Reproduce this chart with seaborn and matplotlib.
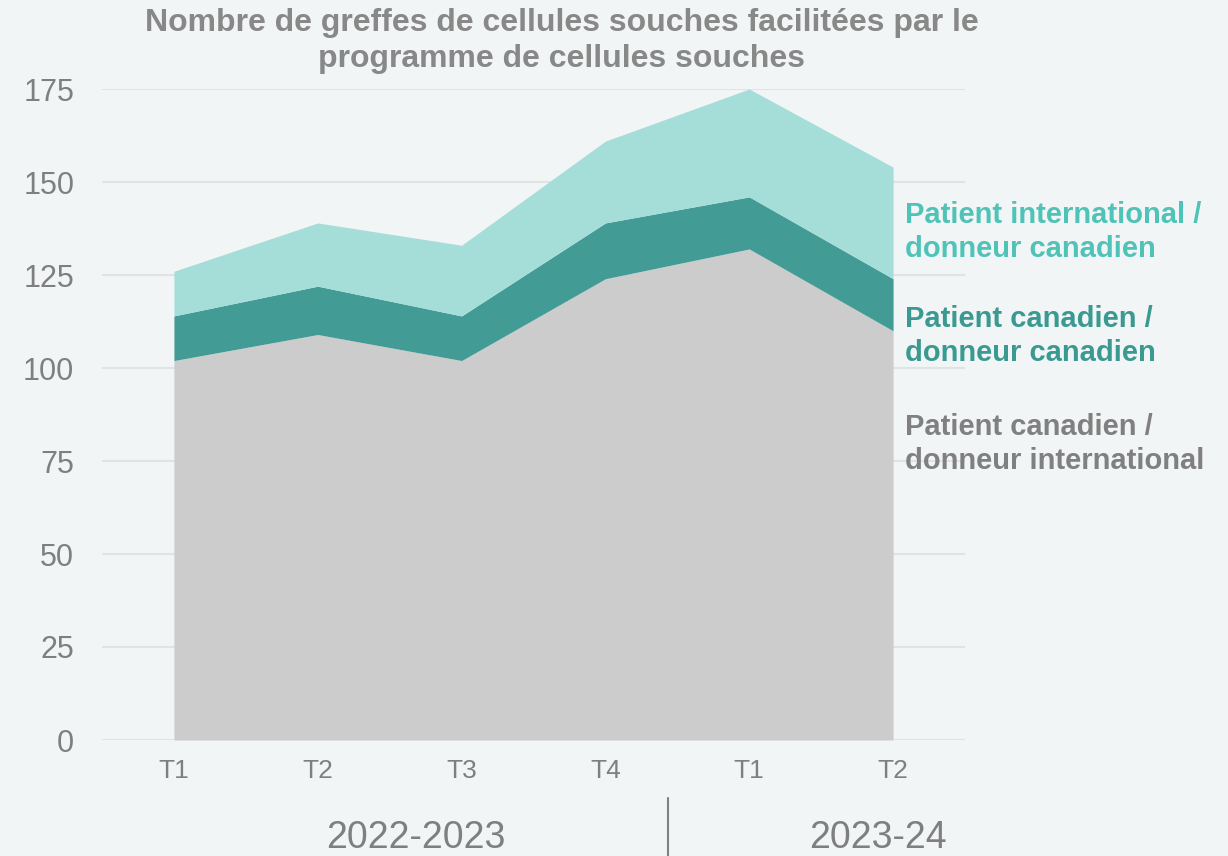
import matplotlib
matplotlib.use("Agg")
import matplotlib.pyplot as plt
import numpy as np
import pandas as pd
import seaborn as sns

# quarters shown on the x axis
quarters = ["T1", "T2", "T3", "T4", "T1", "T2"]
years = ["2022-2023", "2023-24"]

# transplants per quarter, by patient / donor origin (stacked bottom to top)
can_patient_int_donor = [102, 109, 102, 124, 132, 110]
can_patient_can_donor = [12, 13, 12, 15, 14, 14]
int_patient_can_donor = [12, 17, 19, 22, 29, 30]

series_labels = [
    "Patient canadien /\ndonneur international",
    "Patient canadien /\ndonneur canadien",
    "Patient international /\ndonneur canadien",
]

BG = "#f2f5f6"
GREY_TXT = "#7f7f7f"
fill_colors = ["#cccccc", "#429b95", "#a5ddd9"]
label_colors = ["#808080", "#3a9a91", "#4fc3b8"]

df = pd.DataFrame({
    "quarter": quarters,
    series_labels[0]: can_patient_int_donor,
    series_labels[1]: can_patient_can_donor,
    series_labels[2]: int_patient_can_donor,
})

sns.set_theme(style="whitegrid", rc={
    "axes.facecolor": BG,
    "figure.facecolor": BG,
    "grid.color": "#e2e2e2",
    "grid.linewidth": 1.5,
})
plt.rcParams["font.family"] = ["Liberation Sans", "DejaVu Sans"]

fig = plt.figure(figsize=(12.28, 8.56), dpi=100)
W, H = 1228, 856
ax = fig.add_axes([102 / W, 1 - 740 / H, 863 / W, 651 / H])

x = np.arange(len(df))
ax.stackplot(x, df[series_labels[0]], df[series_labels[1]], df[series_labels[2]],
             colors=fill_colors, linewidth=0, zorder=2)

ax.set_xlim(-0.5, len(df) - 0.5)
ax.set_ylim(0, 175)
ax.set_yticks(range(0, 176, 25))
ax.set_xticks(x)
ax.set_xticklabels(df["quarter"])
ax.grid(axis="x", visible=False)
ax.set_axisbelow(True)
ax.tick_params(axis="y", length=0, pad=20, labelsize=22, labelcolor=GREY_TXT)
ax.tick_params(axis="x", length=0, pad=14, labelsize=19, labelcolor=GREY_TXT)
sns.despine(ax=ax, left=True, bottom=True)

fig.text(562 / W, 1 - 41 / H,
         "Nombre de greffes de cellules souches facilitées par le\nprogramme de cellules souches",
         ha="center", va="center", fontsize=23, fontweight="bold", color="#888888",
         linespacing=1.28)

# series labels at the right
label_y = [444, 336, 232]
for lab, col, yy in zip(series_labels, label_colors, label_y):
    fig.text(905 / W, 1 - yy / H, lab, ha="left", va="center", fontsize=21,
             fontweight="bold", color=col, linespacing=1.25)

# fiscal year labels with divider
fig.text(416 / W, 1 - 838 / H, years[0], ha="center", va="center", fontsize=27, color=GREY_TXT)
fig.text(878 / W, 1 - 838 / H, years[1], ha="center", va="center", fontsize=27, color=GREY_TXT)
fig.add_artist(plt.Line2D([668 / W, 668 / W], [0, 1 - 798 / H], color="#808080", linewidth=1.5))

fig.savefig("out.png", dpi=100, facecolor=BG)
